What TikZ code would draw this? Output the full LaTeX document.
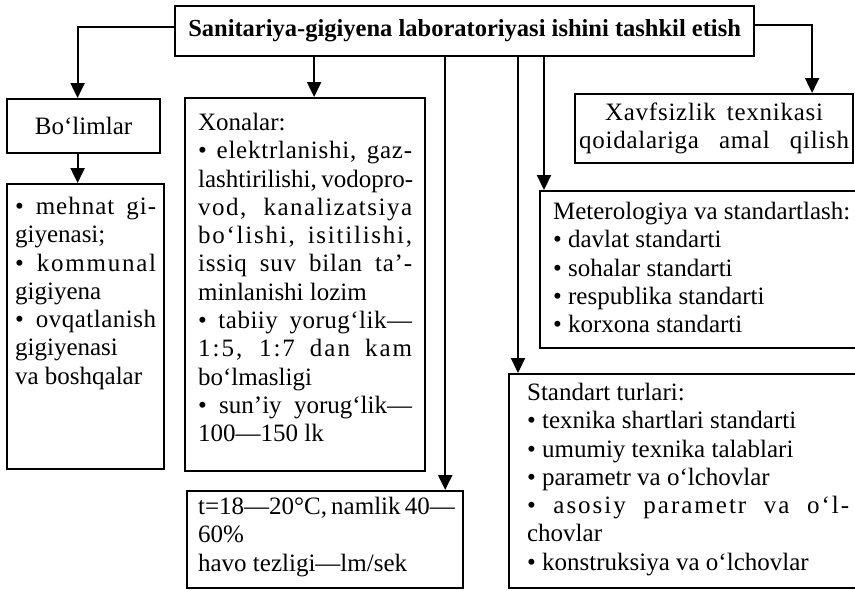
\documentclass[tikz,border=0pt]{standalone}
\usepackage{fontspec}
\setmainfont{Liberation Serif}
\usetikzlibrary{arrows.meta}
\newcommand{\jl}[2][0]{\makebox[\linewidth][s]{\addfontfeature{LetterSpace=#1}#2}}
\newcommand{\boxtext}[3]{\parbox[b][#2][t]{#1}{#3}}
\tikzset{
 box/.style={draw, line width=2.2pt, anchor=north west, inner sep=0pt, font=\fontsize{25}{28.3}\selectfont},
 arr/.style={line width=2.2pt, -{Triangle[length=15pt,width=14pt]}}
}

\begin{document}
\begin{tikzpicture}[x=1pt, y=-1pt]
 \useasboundingbox (0,0) rectangle (855,590);
 \node[box, minimum width=579pt, minimum height=50pt, font=\fontsize{24.5}{28.3}\selectfont\bfseries] (title) at (174,5) {Sanitariya-gigiyena laboratoriyasi ishini tashkil etish};
 \node[box, minimum width=153pt, minimum height=54pt] (bolim) at (6,98) {Bo‘limlar};
 \node[box, inner xsep=8pt, inner ysep=13pt] (mehnat) at (6,183) {\boxtext{141pt}{259pt}{%
  \jl[4]{\textbullet{} mehnat gi-}\\
  giyenasi;\\
  \jl[7]{\textbullet{} kommunal}\\
  gigiyena\\
  \jl[2]{\textbullet{} ovqatlanish}\\
  gigiyenasi\\
  va boshqalar}};
 \node[box, inner xsep=13pt, inner ysep=15pt] (xona) at (184,97) {\boxtext{214pt}{343pt}{%
  Xonalar:\\
  \jl[3]{\textbullet{} elektrlanishi, gaz-}\\
  \jl{lashtirilishi, vodopro-}\\
  \jl[6]{vod, kanalizatsiya}\\
  \jl[7]{bo‘lishi, isitilishi,}\\
  \jl[3]{issiq suv bilan ta’-}\\
  minlanishi lozim\\
  \jl[2]{\textbullet{} tabiiy yorug‘lik—}\\
  \jl[8]{1:5, 1:7 dan kam}\\
  bo‘lmasligi\\
  \jl{\textbullet{} sun’iy yorug‘lik—}\\
  100—150 lk}};
 \node[box, inner xsep=11pt, inner ysep=6pt] (tbox) at (186,490) {\boxtext{254pt}{85pt}{%
  \jl{t=18—20°C, namlik 40—}\\
  60\%\\
  havo tezligi—lm/sek}};
 \node[box, minimum width=278pt, minimum height=69pt, align=center] (xavf) at (574,93)
  {\makebox[218pt][s]{\addfontfeature{LetterSpace=3}Xavfsizlik texnikasi}\\ \makebox[270pt][s]{\addfontfeature{LetterSpace=3}qoidalariga amal qilish}};
 \node[box, inner xsep=13pt, inner ysep=11pt] (metro) at (539,190) {\boxtext{314pt}{135pt}{%
  Meterologiya va standartlash:\\
  \textbullet{} davlat standarti\\
  \textbullet{} sohalar standarti\\
  \textbullet{} respublika standarti\\
  \textbullet{} korxona standarti}};
 \node[box, inner xsep=18pt, inner ysep=9pt] (standart) at (508,373) {\boxtext{322pt}{196pt}{%
  Standart turlari:\\
  \textbullet{} texnika shartlari standarti\\
  \textbullet{} umumiy texnika talablari\\
  \textbullet{} parametr va o‘lchovlar\\
  \jl[8]{\textbullet{} asosiy parametr va o‘l-}\\
  chovlar\\
  \textbullet{} konstruksiya va o‘lchovlar}};
 \draw[arr] ([yshift=4pt]title.west) -| ([xshift=-6pt]bolim.north);
 \draw[arr] ([xshift=-6pt]bolim.south) -- ([xshift=-6pt]bolim.south |- mehnat.north);
 \draw[arr] ([xshift=9pt]xona.north |- title.south) -- ([xshift=9pt]xona.north);
 \draw[arr] ([xshift=-19pt]tbox.north east |- title.south) -- ([xshift=-19pt]tbox.north east);
 \draw[arr] ([xshift=10pt]standart.north west |- title.south) -- ([xshift=10pt]standart.north west);
 \draw[arr] ([xshift=5pt]metro.north west |- title.south) -- ([xshift=5pt]metro.north west);
 \draw[arr] ([yshift=6pt]title.east) -| ([xshift=98pt]xavf.north);
\end{tikzpicture}
\end{document}
